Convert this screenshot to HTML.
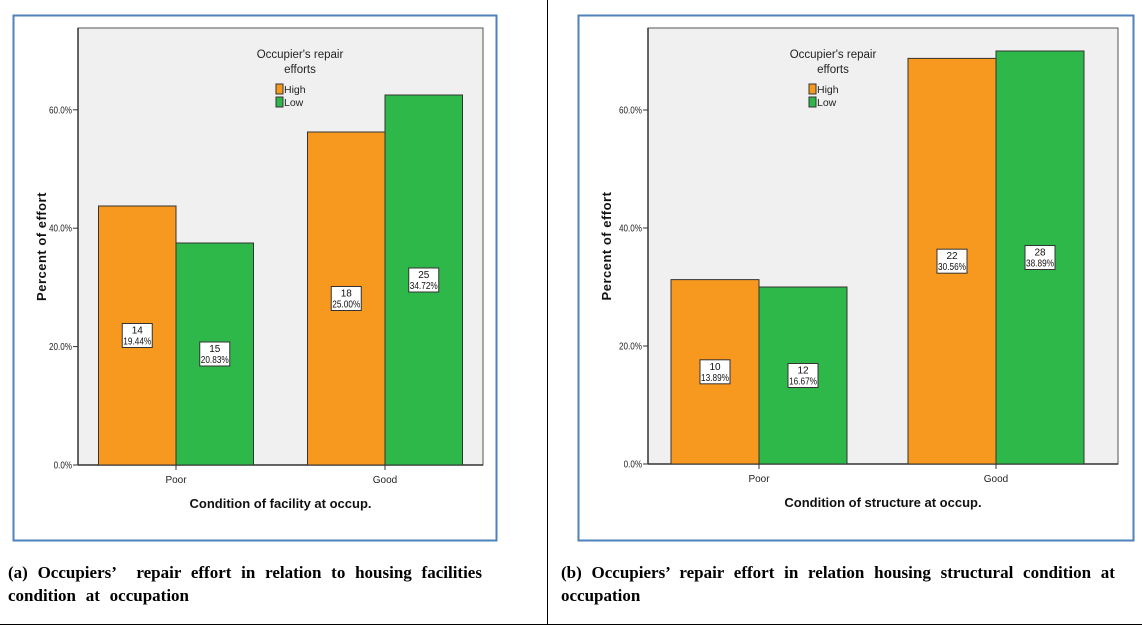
<!DOCTYPE html>
<html><head><meta charset="utf-8">
<style>
html,body{margin:0;padding:0;background:#fff;}
body{width:1142px;height:629px;position:relative;overflow:hidden;font-family:"Liberation Sans",sans-serif;}
.cap{position:absolute;font-family:"Liberation Serif",serif;font-weight:bold;font-size:17px;line-height:23px;color:#000;}
</style></head>
<body>
<svg id="svg" width="1142" height="629" style="position:absolute;left:0;top:0">
  <line x1="547.5" y1="0" x2="547.5" y2="624" stroke="#000" stroke-width="1"/>
  <line x1="0" y1="624.5" x2="1142" y2="624.5" stroke="#000" stroke-width="1"/>
</svg>
<div class="cap" style="left:8px;top:561px;width:490px;word-spacing:5.5px">(a) Occupiers’&nbsp; repair effort in relation to housing facilities condition at occupation</div>
<div class="cap" style="left:561px;top:561px;width:579px;word-spacing:5.5px">(b) Occupiers’ repair effort in relation housing structural condition at occupation</div>
<script>
const categories = ["Poor","Good"];
const seriesNames = ["High","Low"];
const tickLabels = ["0.0%","20.0%","40.0%","60.0%"];
const tickValues = [0,20,40,60];
const percentA_high = [43.75,56.25];
const percentA_low = [37.5,62.5];
const countA_high = ["14","18"];
const countA_low = ["15","25"];
const pctLabelA_high = ["19.44%","25.00%"];
const pctLabelA_low = ["20.83%","34.72%"];
const percentB_high = [31.25,68.75];
const percentB_low = [30.0,70.0];
const countB_high = ["10","22"];
const countB_low = ["12","28"];
const pctLabelB_high = ["13.89%","30.56%"];
const pctLabelB_low = ["16.67%","38.89%"];
const colors = ["#f7981f","#2eb84a"];

const NS="http://www.w3.org/2000/svg";
const svg=document.getElementById('svg');
function mk(tag,attrs,parent,txt){const e=document.createElementNS(NS,tag);for(const k in attrs)e.setAttribute(k,attrs[k]);if(txt!==undefined)e.textContent=txt;(parent||svg).appendChild(e);return e;}

function drawChart(cfg){
  const g=mk('g',{});
  
  
  const f=mk('rect',{x:cfg.frame[0]+0.5,y:cfg.frame[1]+0.5,width:cfg.frame[2]-cfg.frame[0],height:cfg.frame[3]-cfg.frame[1],fill:'#fff',stroke:'#4f81bd','stroke-width':2},g);
  
  
  const [L,T,R,B]=cfg.plot;
  const p=mk('rect',{x:L,y:T,width:R-L,height:B-T,fill:'#f0f0f0',stroke:'#555','stroke-width':1},g);
  
  
  const y=v=>B-v*cfg.ppu;
  const catX=i=>cfg.c0+i*cfg.step;
  const x=(i,s)=>catX(i)-cfg.barW+s*cfg.barW;
  mk('line',{x1:L,y1:B,x2:R,y2:B,stroke:'#333','stroke-width':1.5},g);
  mk('line',{x1:L,y1:T,x2:L,y2:B,stroke:'#333','stroke-width':1.5},g);
  tickValues.forEach((v,i)=>{
    mk('line',{x1:L-5,y1:y(v),x2:L,y2:y(v),stroke:'#333'},g);
    const t=mk('text',{x:L-6,y:y(v)+3.5,'text-anchor':'end','font-size':10,fill:'#222',textLength:tickLabels[i].length*4.6,lengthAdjust:'spacingAndGlyphs'},g,tickLabels[i]);
    
    
  });
  const series=[cfg.high,cfg.low], counts=[cfg.cHigh,cfg.cLow], pcts=[cfg.pHigh,cfg.pLow];
  categories.forEach((c,i)=>{
    series.forEach((vals,s)=>{
      const r=mk('rect',{x:x(i,s),y:y(vals[i]),width:cfg.barW,height:y(0)-y(vals[i]),fill:colors[s],stroke:'#333','stroke-width':1},g);
      
      
    });
    const cx=catX(i);
    mk('line',{x1:cx,y1:B,x2:cx,y2:B+5,stroke:'#333'},g);
    const t=mk('text',{x:cx,y:B+18,'text-anchor':'middle','font-size':10,fill:'#222'},g,c);
    
    
    series.forEach((vals,s)=>{
      const mx=x(i,s)+cfg.barW/2, my=y(vals[i]/2);
      const lg=mk('g',{},g);
      
      
      mk('rect',{x:mx-15,y:my-12,width:30,height:24,fill:'#fff',stroke:'#333','stroke-width':1},lg);
      mk('text',{x:mx,y:my-2,'text-anchor':'middle','font-size':10,fill:'#111'},lg,counts[s][i]);
      mk('text',{x:mx,y:my+9,'text-anchor':'middle','font-size':10,fill:'#111',textLength:28,lengthAdjust:'spacingAndGlyphs'},lg,pcts[s][i]);
    });
  });
  const lx=cfg.legX;
  const lt=mk('text',{x:lx,y:T+30,'text-anchor':'middle','font-size':11.5,fill:'#222'},g,"Occupier's repair");
  
  
  mk('text',{x:lx,y:T+45,'text-anchor':'middle','font-size':11.5,fill:'#222'},g,"efforts");
  seriesNames.forEach((n,s)=>{
    const e=mk('g',{},g);
    
    
    mk('rect',{x:lx-24,y:T+56+s*13,width:7,height:10,fill:colors[s],stroke:'#333'},e);
    mk('text',{x:lx-16,y:T+65+s*13,'font-size':10.5,fill:'#222'},e,n);
  });
  const yt=mk('text',{x:0,y:0,transform:`translate(${cfg.yTitleX},${(T+B)/2}) rotate(-90)`,'text-anchor':'middle','font-size':13,'font-weight':'bold',fill:'#111','letter-spacing':'0.5'},g,'Percent of effort');
  
  
  const xt=mk('text',{x:(L+R)/2,y:B+43,'text-anchor':'middle','font-size':13,'font-weight':'bold',fill:'#111'},g,cfg.xTitle);
  
  
}
drawChart({id:'chart-a',frame:[13,15,496,540],plot:[78,28,483,465],ppu:5.92,c0:176,step:209,barW:77.5,legX:300,yTitleX:46,
  high:percentA_high,low:percentA_low,cHigh:countA_high,cLow:countA_low,pHigh:pctLabelA_high,pLow:pctLabelA_low,xTitle:'Condition of facility at occup.'});
drawChart({id:'chart-b',frame:[578,15,1133,540],plot:[648,28,1118,464],ppu:5.9,c0:759,step:237,barW:88,legX:833,yTitleX:611,
  high:percentB_high,low:percentB_low,cHigh:countB_high,cLow:countB_low,pHigh:pctLabelB_high,pLow:pctLabelB_low,xTitle:'Condition of structure at occup.'});
</script>
</body></html>
